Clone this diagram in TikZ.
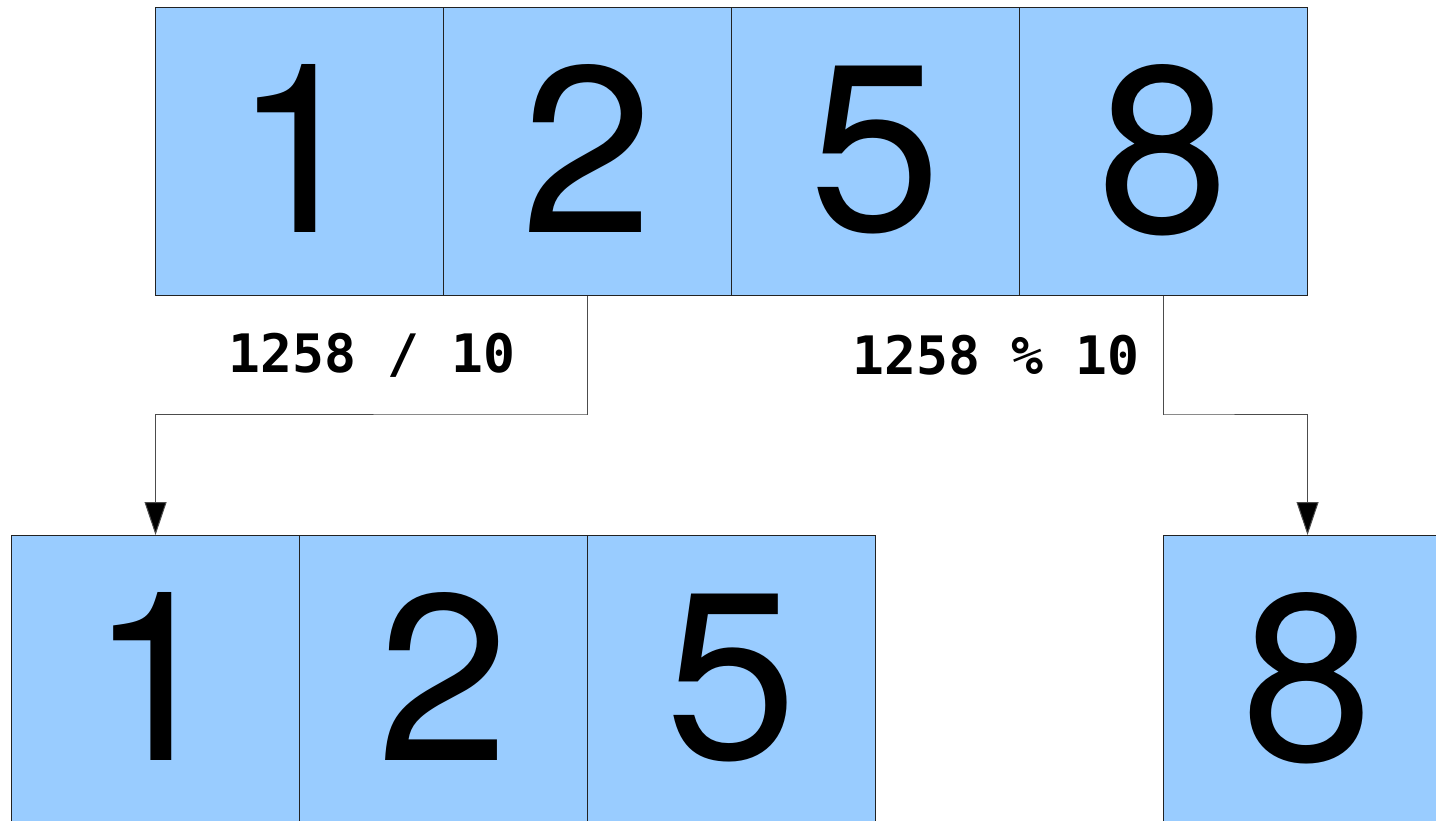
\documentclass[tikz,border=0pt]{standalone}
\usepackage{fontspec}
\setmainfont{TeX Gyre Heros}
\newfontfamily\monofont{DejaVu Sans Mono}
\usetikzlibrary{arrows.meta}
\definecolor{cellblue}{HTML}{99CCFF}
\definecolor{edgegray}{HTML}{222222}
\begin{document}
\begin{tikzpicture}[x=1pt,y=-1pt,
  cell/.style={draw=edgegray,line width=1.1pt,fill=cellblue,minimum width=288pt,minimum height=288pt,inner sep=0pt,anchor=north west,font=\fontsize{237}{237}\selectfont,text depth=6pt},
  oplabel/.style={font=\monofont\bfseries\fontsize{53}{53}\selectfont,inner sep=0pt},
  conn/.style={draw=black!70,line width=1pt,-{Triangle[length=33pt,width=22pt,fill=black]}}]
\useasboundingbox (0,0) rectangle (1436,821);
\clip (0,0) rectangle (1436,821);
% top row
\node[cell] (t1) at (155,7) {1};
\node[cell] (t2) at (443,7) {2};
\node[cell] (t3) at (731,7) {5};
\node[cell] (t4) at (1019,7) {8};
% bottom left
\node[cell] (b1) at (11,535) {1};
\node[cell] (b2) at (299,535) {2};
\node[cell] (b3) at (587,535) {5};
% bottom right
\node[cell] (r1) at (1163,535) {8};
% labels
\node[oplabel] (ldiv) at (372,355) {1258 / 10};
\node[oplabel] (lmod) at (996,355) {1258 \% 10};
% connectors
\coordinate (c1) at (587,414);
\coordinate (c2) at (1163,414);
\draw[conn] (t2.south) |- (c1) -| (b1.north);
\draw[conn] (t4.south) |- (c2) -| (r1.north);
\end{tikzpicture}
\end{document}
